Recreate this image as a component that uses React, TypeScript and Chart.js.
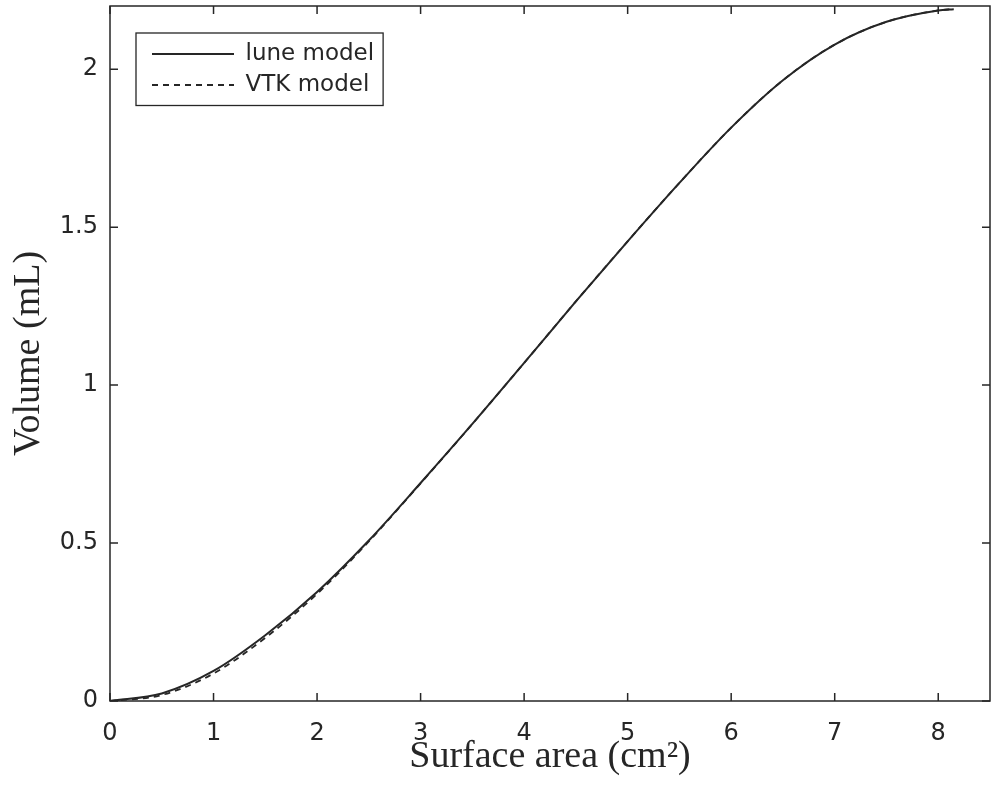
import React, { useEffect, useRef } from "react";
import { Chart, registerables } from "chart.js";

Chart.register(...registerables);

// Surface area (cm^2)
const luneArea = [0, 0.5, 1, 1.5, 2, 2.5, 3, 3.5, 4, 4.5, 5, 5.5, 6, 6.5, 7, 7.5, 8, 8.15];
// Volume (mL)
const luneVolume = [0, 0.024, 0.095, 0.208, 0.345, 0.508, 0.69, 0.877, 1.07, 1.265, 1.455, 1.64, 1.815, 1.965, 2.078, 2.15, 2.186, 2.19];

const vtkArea = [0, 0.5, 1, 1.5, 2, 2.5, 3, 3.5, 4, 4.5, 5, 5.5, 6, 6.5, 7, 7.5, 8, 8.15];
const vtkVolume = [0, 0.019, 0.087, 0.2, 0.339, 0.505, 0.689, 0.877, 1.07, 1.265, 1.455, 1.64, 1.815, 1.965, 2.078, 2.15, 2.186, 2.19];

const seriesNames = ["lune model", "VTK model"];
const xTitle = "Surface area (cm\u00B2)";
const yTitle = "Volume (mL)";

const INK = "#262626";

const toPoints = (xs: number[], ys: number[]) => xs.map((x, i) => ({ x, y: ys[i] }));

const framePlugin = {
  id: "frameTicks",
  afterLayout(chart: any) {
    const lg = chart.legend;
    if (lg) {
      lg.left = chart.chartArea.left + 34;
      lg.top = chart.chartArea.top + 28.5;
    }
  },
  afterDraw(chart: any) {
    const { ctx, chartArea, scales } = chart;
    const { left, right, top, bottom } = chartArea;
    const xs = scales.x;
    const ys = scales.y;
    ctx.save();
    ctx.strokeStyle = INK;
    ctx.lineWidth = 1.5;
    ctx.strokeRect(left, top, right - left, bottom - top);
    const len = 8;
    ctx.beginPath();
    xs.ticks.forEach((t: any) => {
      const px = xs.getPixelForValue(t.value);
      ctx.moveTo(px, bottom);
      ctx.lineTo(px, bottom - len);
      ctx.moveTo(px, top);
      ctx.lineTo(px, top + len);
    });
    ys.ticks.forEach((t: any) => {
      const py = ys.getPixelForValue(t.value);
      ctx.moveTo(left, py);
      ctx.lineTo(left + len, py);
      ctx.moveTo(right, py);
      ctx.lineTo(right - len, py);
    });
    ctx.stroke();

    // legend frame
    const lg = chart.legend;
    if (lg && lg.legendHitBoxes && lg.legendHitBoxes.length) {
      const hb = lg.legendHitBoxes;
      let l = Infinity, r = -Infinity, t = Infinity, b = -Infinity;
      hb.forEach((h: any) => {
        l = Math.min(l, h.left);
        r = Math.max(r, h.left + h.width);
        t = Math.min(t, h.top);
        b = Math.max(b, h.top + h.height);
      });
      ctx.lineWidth = 1.3;
      ctx.strokeRect(l - 16, t - 9.5, r - l + 16 + 9, b - t + 9.5 + 9);
    }
    ctx.restore();
  },
};

const fmt = (v: any) => String(Number(Number(v).toFixed(2)));

export default function App() {
  const ref = useRef<HTMLCanvasElement | null>(null);

  useEffect(() => {
    if (!ref.current) return;
    const chart = new Chart(ref.current, {
      type: "line",
      data: {
        datasets: [
          {
            label: seriesNames[0],
            data: toPoints(luneArea, luneVolume),
            borderColor: INK,
            backgroundColor: INK,
            borderWidth: 2,
            pointRadius: 0,
            fill: false,
            cubicInterpolationMode: "monotone",
          },
          {
            label: seriesNames[1],
            data: toPoints(vtkArea, vtkVolume),
            borderColor: INK,
            backgroundColor: INK,
            borderWidth: 1.8,
            borderDash: [6, 5],
            pointRadius: 0,
            fill: false,
            cubicInterpolationMode: "monotone",
          },
        ],
      },
      options: {
        animation: false,
        responsive: true,
        maintainAspectRatio: false,
        layout: { padding: { top: 6, right: 6, left: 0, bottom: 0 } },
        plugins: {
          tooltip: { enabled: false },
          legend: {
            position: "chartArea",
            align: "start",
            labels: {
              usePointStyle: true,
              pointStyle: "line",
              pointStyleWidth: 82,
              padding: 8,
              color: INK,
              font: { family: "DejaVu Sans", size: 23 },
              generateLabels: (chart: any) => {
                const items = Chart.defaults.plugins.legend.labels.generateLabels(chart);
                return items.map((it: any) => {
                  const ds = chart.data.datasets[it.datasetIndex];
                  return {
                    ...it,
                    lineDash: ds.borderDash || [],
                    lineWidth: ds.borderWidth,
                    strokeStyle: ds.borderColor,
                    pointStyle: "line",
                  };
                });
              },
            },
          },
        },
        scales: {
          x: {
            type: "linear",
            min: 0,
            max: 8.5,
            grid: { display: false, drawTicks: false },
            border: { display: false },
            ticks: {
              stepSize: 1,
              includeBounds: false,
              padding: 18,
              color: INK,
              font: { family: "DejaVu Sans", size: 24 },
              maxRotation: 0,
              callback: fmt,
            },
            title: {
              display: true,
              text: xTitle,
              color: INK,
              font: { family: "Liberation Serif", size: 38 },
              padding: { top: 0, bottom: 17 },
            },
            afterFit: (s: any) => {
              s.height = 96;
              s.paddingLeft = 0;
              s.paddingRight = 0;
            },
          },
          y: {
            type: "linear",
            min: 0,
            max: 2.2,
            grid: { display: false, drawTicks: false },
            border: { display: false },
            ticks: {
              stepSize: 0.5,
              includeBounds: false,
              padding: 12,
              color: INK,
              font: { family: "DejaVu Sans", size: 24 },
              callback: fmt,
            },
            title: {
              display: true,
              text: yTitle,
              color: INK,
              font: { family: "Liberation Serif", size: 38 },
              padding: { top: 6, bottom: 0 },
            },
            afterFit: (s: any) => {
              s.width = 110;
              s.paddingTop = 0;
              s.paddingBottom = 0;
            },
          },
        },
      },
      plugins: [framePlugin],
    } as any);
    return () => chart.destroy();
  }, []);

  return (
    <div style={{ position: "fixed", left: 0, top: 0, width: 996, height: 797, background: "#fff" }}>
      <canvas ref={ref} />
    </div>
  );
}
